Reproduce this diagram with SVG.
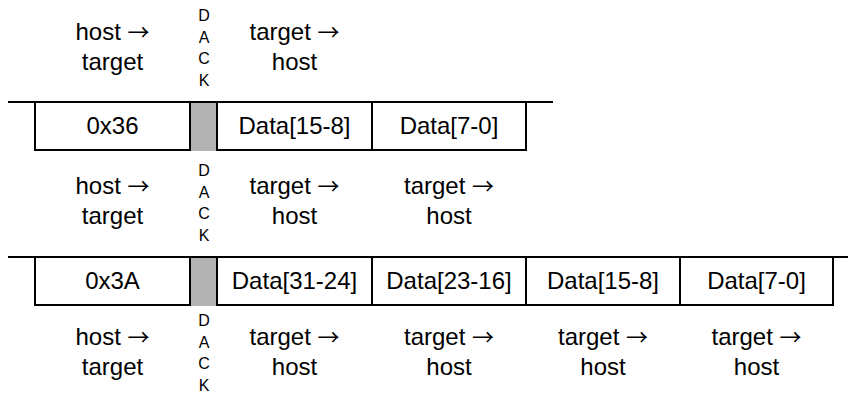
<svg xmlns="http://www.w3.org/2000/svg" width="848" height="398" viewBox="0 0 848 398">
<style>
text{font-family:"Liberation Sans",Arial,sans-serif;fill:#000}
.t{font-size:24px;text-anchor:middle}
.d{font-size:16px;text-anchor:middle}
.ar{font-family:"Noto Sans CJK SC","DejaVu Sans",sans-serif;font-size:22px}
.ln{stroke:#000;stroke-width:2;fill:none}
.ack{fill:#b3b3b3;stroke:none}
</style>
<rect width="848" height="398" fill="#fff"/>

<!-- Upper frame labels -->
<g id="labels-1">
<text class="t" x="112.5" y="40">host <tspan class="ar">→</tspan></text>
<text class="t" x="112.5" y="70">target</text>
<text class="d" x="204" y="21">D</text>
<text class="d" x="204" y="42.5">A</text>
<text class="d" x="204" y="64">C</text>
<text class="d" x="204" y="85.5">K</text>
<text class="t" x="294.5" y="40">target <tspan class="ar">→</tspan></text>
<text class="t" x="294.5" y="70">host</text>
</g>

<!-- Upper frame -->
<g id="frame-1">
<rect class="ack" x="190" y="102" width="27" height="49"/>
<g id="f1-cmd"><text class="t" x="112.5" y="134">0x36</text></g>
<g id="f1-d1"><text class="t" x="294.5" y="134">Data[15-8]</text></g>
<g id="f1-d0"><text class="t" x="449" y="134">Data[7-0]</text></g>
<path class="ln" d="M8 102H553 M35 102V151 M190 102V151 M217 102V151 M372 102V151 M526 102V151 M35 150H190 M217 150H526"/>
</g>

<!-- Middle labels -->
<g id="labels-2">
<text class="t" x="112.5" y="194">host <tspan class="ar">→</tspan></text>
<text class="t" x="112.5" y="224">target</text>
<text class="d" x="204" y="176">D</text>
<text class="d" x="204" y="197.5">A</text>
<text class="d" x="204" y="219">C</text>
<text class="d" x="204" y="240.5">K</text>
<text class="t" x="294.5" y="194">target <tspan class="ar">→</tspan></text>
<text class="t" x="294.5" y="224">host</text>
<text class="t" x="449" y="194">target <tspan class="ar">→</tspan></text>
<text class="t" x="449" y="224">host</text>
</g>

<!-- Lower frame -->
<g id="frame-2">
<rect class="ack" x="190" y="257" width="27" height="49"/>
<g id="f2-cmd"><text class="t" x="112.5" y="289">0x3A</text></g>
<g id="f2-d3"><text class="t" x="294.5" y="289">Data[31-24]</text></g>
<g id="f2-d2"><text class="t" x="449" y="289">Data[23-16]</text></g>
<g id="f2-d1"><text class="t" x="603" y="289">Data[15-8]</text></g>
<g id="f2-d0"><text class="t" x="756.5" y="289">Data[7-0]</text></g>
<path class="ln" d="M8 257H848 M35 257V306 M190 257V306 M217 257V306 M372 257V306 M526 257V306 M680 257V306 M833 257V306 M35 305H190 M217 305H833"/>
</g>

<!-- Bottom labels -->
<g id="labels-3">
<text class="t" x="112.5" y="345">host <tspan class="ar">→</tspan></text>
<text class="t" x="112.5" y="375">target</text>
<text class="d" x="204" y="326">D</text>
<text class="d" x="204" y="347.5">A</text>
<text class="d" x="204" y="369">C</text>
<text class="d" x="204" y="390.5">K</text>
<text class="t" x="294.5" y="345">target <tspan class="ar">→</tspan></text>
<text class="t" x="294.5" y="375">host</text>
<text class="t" x="449" y="345">target <tspan class="ar">→</tspan></text>
<text class="t" x="449" y="375">host</text>
<text class="t" x="603" y="345">target <tspan class="ar">→</tspan></text>
<text class="t" x="603" y="375">host</text>
<text class="t" x="756.5" y="345">target <tspan class="ar">→</tspan></text>
<text class="t" x="756.5" y="375">host</text>
</g>
</svg>
